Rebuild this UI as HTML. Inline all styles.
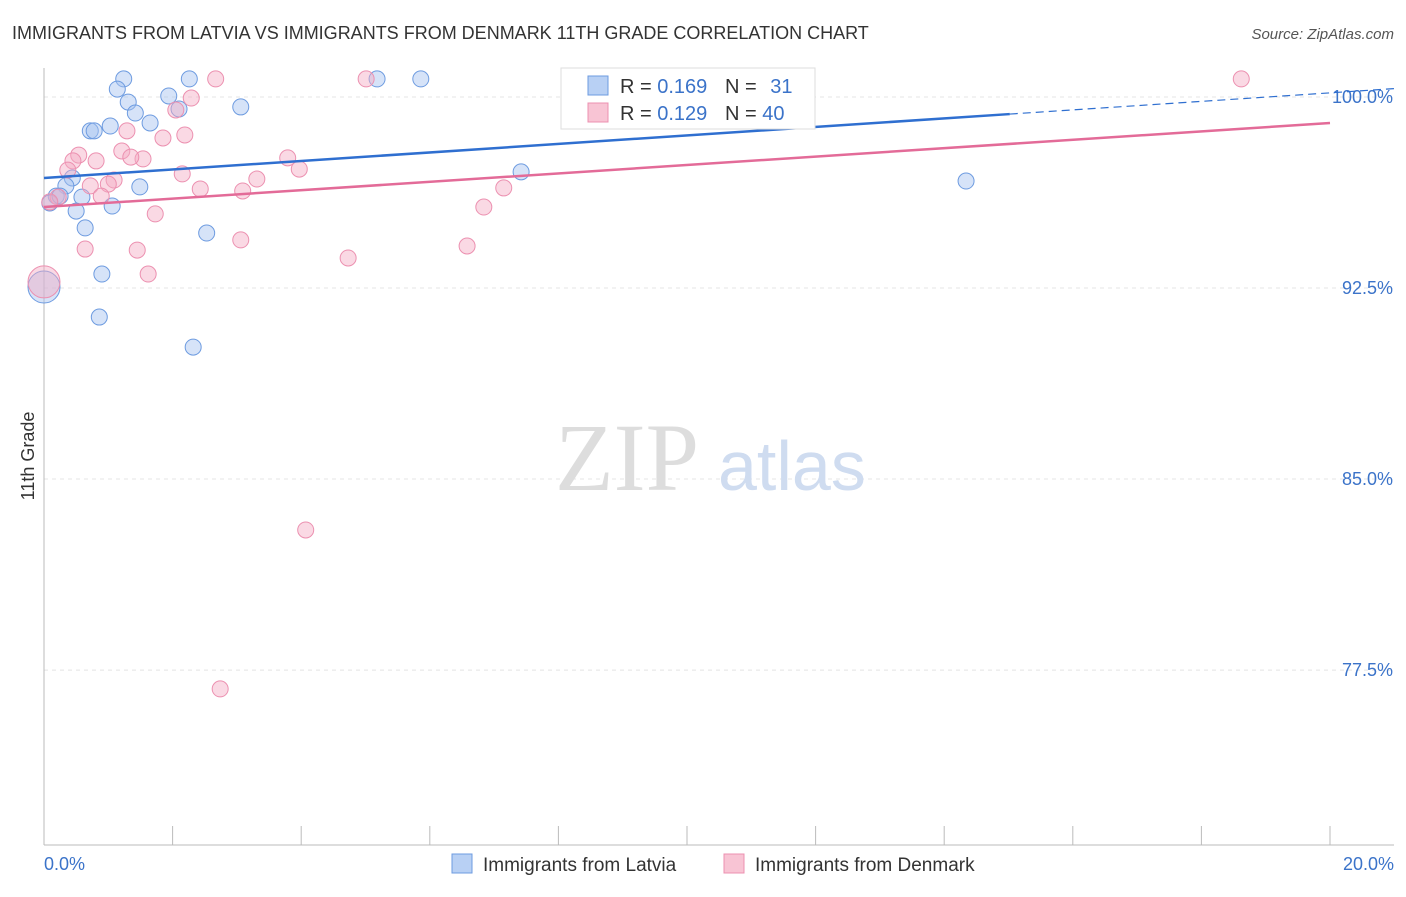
<!DOCTYPE html>
<html><head><meta charset="utf-8"><style>
body{margin:0;background:#fff;font-family:"Liberation Sans",sans-serif;}
svg text{font-family:"Liberation Sans",sans-serif;}
</style></head><body>
<svg width="1406" height="892" viewBox="0 0 1406 892" xmlns="http://www.w3.org/2000/svg">
<text x="12" y="39" font-size="18" fill="#333">IMMIGRANTS FROM LATVIA VS IMMIGRANTS FROM DENMARK 11TH GRADE CORRELATION CHART</text>
<text x="1394" y="39" font-size="15" fill="#555" text-anchor="end" font-style="italic">Source: ZipAtlas.com</text>
<g id="grid"></g>
<g id="axes"></g>
<text x="555" y="490" font-size="96" fill="#ddd" font-family="Liberation Serif" style="font-family:'Liberation Serif',serif">ZIP</text>
<text x="718" y="490" font-size="70" fill="#cfdcf0">atlas</text>
<g id="pts"></g>
<g id="trends"></g>
<text x="34" y="456" font-size="18" fill="#333" text-anchor="middle" transform="rotate(-90 34 456)">11th Grade</text>
<g>
<rect x="561" y="68" width="254" height="61" fill="#fff" stroke="#ddd"/>
<rect x="588" y="76" width="20" height="19" fill="#b8d0f4" stroke="#6d9be0"/>
<rect x="588" y="103" width="20" height="19" fill="#f8c4d4" stroke="#ec90b0"/>
<text x="620" y="93" font-size="20" fill="#333">R = <tspan fill="#3b73c9">0.169</tspan></text>
<text x="725" y="93" font-size="20" fill="#333">N = <tspan fill="#3b73c9" dx="8">31</tspan></text>
<text x="620" y="120" font-size="20" fill="#333">R = <tspan fill="#3b73c9">0.129</tspan></text>
<text x="725" y="120" font-size="20" fill="#333">N = <tspan fill="#3b73c9">40</tspan></text>
</g>
<g>
<rect x="452" y="854" width="20" height="19" fill="#b8d0f4" stroke="#6d9be0"/>
<text x="483" y="871" font-size="19" fill="#333">Immigrants from Latvia</text>
<rect x="724" y="854" width="20" height="19" fill="#f8c4d4" stroke="#ec90b0"/>
<text x="755" y="871" font-size="19" fill="#333">Immigrants from Denmark</text>
</g>
</svg>
<script>
const blueX=[1.24,2.26,5.18,5.86,1.14,1.31,1.94,2.10,3.06,1.42,1.03,1.65,0.72,0.78,7.42,0.44,0.34,1.49,0.19,0.59,0.09,1.06,0.50,0.64,2.53,0.90,0.0,0.86,2.32,14.34,0.25];
const blueY=[100.71,100.71,100.71,100.71,100.31,99.80,100.04,99.53,99.61,99.37,98.86,98.98,98.67,98.67,97.06,96.82,96.51,96.47,96.11,96.07,95.84,95.72,95.52,94.86,94.66,93.05,92.54,91.36,90.18,96.70,96.11];
const pinkX=[2.67,5.01,18.62,2.29,2.05,1.29,2.19,1.85,1.21,0.54,0.45,0.81,1.54,1.35,3.79,3.97,0.37,2.15,1.09,1.00,0.72,2.43,3.31,3.09,7.15,0.89,0.22,0.09,6.84,1.73,3.06,0.64,1.45,6.58,4.73,1.62,0.0,4.07,2.74];
const pinkY=[100.71,100.71,100.71,99.96,99.49,98.67,98.51,98.39,97.88,97.72,97.49,97.49,97.57,97.64,97.61,97.17,97.13,96.98,96.74,96.58,96.51,96.39,96.78,96.31,96.43,96.11,96.07,95.88,95.68,95.41,94.39,94.03,93.99,94.15,93.68,93.05,92.74,83.00,76.76];
const yTicks=[100,92.5,85,77.5];
const yTickLabels=["100.0%","92.5%","85.0%","77.5%"];
const xTicks=[0,2,4,6,8,10,12,14,16,18,20];
const blueTrend=[[0,96.82],[15.02,99.33],[21,100.33]];
const pinkTrend=[[0,95.68],[20,98.98]];
const X=v=>44+v*64.3, Y=v=>97+(100-v)*25.47;
const NS="http://www.w3.org/2000/svg";
function mk(p,t,a){const e=document.createElementNS(NS,t);for(const k in a)e.setAttribute(k,a[k]);document.getElementById(p).appendChild(e);return e;}
yTicks.forEach((t,i)=>{
 const l=mk('grid','line',{x1:44,x2:1394,y1:Y(t),y2:Y(t),stroke:'#e4e4e4','stroke-dasharray':'4,4'});
 
 
 const tx=mk('axes','text',{x:1393,y:Y(t)+6,'font-size':18,fill:'#3b73c9','text-anchor':'end'});
 tx.textContent=yTickLabels[i];
 
 
});
const ax=mk('axes','line',{x1:44,x2:44,y1:68,y2:845,stroke:'#bbb'});


const bx=mk('axes','line',{x1:44,x2:1394,y1:845,y2:845,stroke:'#bbb'});


xTicks.forEach(t=>{const l=mk('axes','line',{x1:X(t),x2:X(t),y1:826,y2:845,stroke:'#bbb'});
 
 });
const x0=mk('axes','text',{x:44,y:870,'font-size':18,fill:'#3b73c9'});x0.textContent='0.0%';


const x1=mk('axes','text',{x:1394,y:870,'font-size':18,fill:'#3b73c9','text-anchor':'end'});x1.textContent='20.0%';


function pts(xs,ys,fill,stroke,name){xs.forEach((x,i)=>{const big=(x===0);
 const c=mk('pts','circle',{cx:X(x),cy:Y(ys[i]),r:big?16:8,fill:fill,stroke:stroke,'stroke-width':1});
 
 });}
pts(blueX,blueY,'rgba(164,194,240,0.45)','#6d9be0','latvia-point');
pts(pinkX,pinkY,'rgba(244,170,195,0.45)','#ec90b0','denmark-point');
const b1=mk('trends','line',{x1:X(blueTrend[0][0]),y1:Y(blueTrend[0][1]),x2:X(blueTrend[1][0]),y2:Y(blueTrend[1][1]),stroke:'#2f6fd0','stroke-width':2.5});


const b2=mk('trends','line',{x1:X(blueTrend[1][0]),y1:Y(blueTrend[1][1]),x2:X(blueTrend[2][0]),y2:Y(blueTrend[2][1]),stroke:'#2f6fd0','stroke-width':1.2,'stroke-dasharray':'8,5'});


const p1=mk('trends','line',{x1:X(pinkTrend[0][0]),y1:Y(pinkTrend[0][1]),x2:X(pinkTrend[1][0]),y2:Y(pinkTrend[1][1]),stroke:'#e36b98','stroke-width':2.5});


</script>
</body></html>
